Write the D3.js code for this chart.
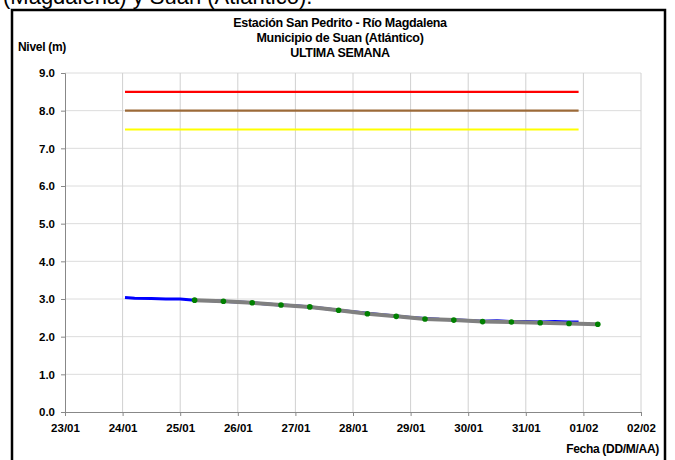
<!DOCTYPE html>
<html>
<head>
<meta charset="utf-8">
<script src="https://cdn.jsdelivr.net/npm/d3@7"></script>
<style>
  body { margin: 0; background: #fff; }
  svg { display: block; font-family: Arial, "Liberation Sans", sans-serif; }
</style>
</head>
<body>
<div id="chart"></div>
<script>
'use strict';

const width = 675;
const height = 460;

// serie horaria (azul)
const blueTimes = ['24/01 01:00', '24/01 05:00', '24/01 12:00', '24/01 18:00', '25/01 00:00', '25/01 06:00',
    '25/01 12:00', '25/01 18:00', '26/01 00:00', '26/01 06:00', '26/01 12:00', '26/01 18:00', '27/01 00:00',
    '27/01 06:00', '27/01 12:00', '27/01 18:00', '28/01 00:00', '28/01 06:00', '28/01 12:00', '28/01 18:00',
    '29/01 00:00', '29/01 06:00', '29/01 12:00', '29/01 18:00', '30/01 00:00', '30/01 06:00', '30/01 12:00',
    '30/01 18:00', '31/01 00:00', '31/01 06:00', '31/01 12:00', '31/01 18:00', '31/01 22:00'];
const blueValues = [3.04, 3.02, 3.01, 3.0, 3.0, 2.97, 2.96, 2.94, 2.92, 2.9, 2.87, 2.84, 2.82, 2.79, 2.75,
    2.7, 2.66, 2.62, 2.58, 2.55, 2.51, 2.48, 2.46, 2.45, 2.43, 2.41, 2.42, 2.4, 2.4, 2.39, 2.4, 2.39, 2.39];

// lecturas (gris con puntos verdes)
const readTimes = ['25/01 06:00', '25/01 18:00', '26/01 06:00', '26/01 18:00', '27/01 06:00', '27/01 18:00',
    '28/01 06:00', '28/01 18:00', '29/01 06:00', '29/01 18:00', '30/01 06:00', '30/01 18:00', '31/01 06:00',
    '31/01 18:00', '01/02 06:00'];
const readValues = [2.97, 2.94, 2.9, 2.84, 2.79, 2.7, 2.61, 2.54, 2.47, 2.44, 2.4, 2.39, 2.37, 2.35, 2.33];

// niveles de alerta
const alertLevels = [8.5, 8.0, 7.5];
const alertColors = ['#ff0000', '#9c6a38', '#ffff00'];

const yTicks = [0, 1, 2, 3, 4, 5, 6, 7, 8, 9];
const titleLines = ['Estación San Pedrito - Río Magdalena', 'Municipio de Suan (Atlántico)', 'ULTIMA SEMANA'];

const parseTime = d3.utcParse('%d/%m/%Y %H:%M');
const toDate = s => parseTime(s.replace(' ', '/2011 '));

const blue = blueTimes.map((t, i) => ({ date: toDate(t), value: blueValues[i] }));
const reads = readTimes.map((t, i) => ({ date: toDate(t), value: readValues[i] }));

const margin = { left: 65, right: 34, top: 73, bottom: 48 };

const x = d3.scaleUtc()
    .domain([toDate('23/01 00:00'), toDate('02/02 00:00')])
    .range([margin.left, width - margin.right]);

const y = d3.scaleLinear()
    .domain([0, 9])
    .range([height - margin.bottom, margin.top]);

const svg = d3.select('#chart').append('svg')
    .attr('width', width)
    .attr('height', height);

// texto del documento (cortado arriba, como en la captura)
svg.append('text')
    .attr('x', 3)
    .attr('y', 4)
    .attr('font-size', 22)
    .attr('fill', '#000')
    .text('(Magdalena) y Suan (Atlántico).');

// marco
svg.append('rect')
    .attr('x', 12)
    .attr('y', 10)
    .attr('width', 653)
    .attr('height', 470)
    .attr('fill', '#fff')
    .attr('stroke', '#000')
    .attr('stroke-width', 2.5);

const dayTicks = d3.utcDay.range(x.domain()[0], d3.utcDay.offset(x.domain()[1], 1));

// rejilla
svg.append('g').selectAll('line').data(yTicks.slice(1))
    .enter().append('line')
    .attr('x1', margin.left).attr('x2', width - margin.right)
    .attr('y1', d => y(d)).attr('y2', d => y(d))
    .attr('stroke', '#dcdcdc');

svg.append('g').selectAll('line').data(dayTicks.slice(1))
    .enter().append('line')
    .attr('x1', d => x(d)).attr('x2', d => x(d))
    .attr('y1', y(0)).attr('y2', y(9))
    .attr('stroke', '#d0d0d0');

// ejes
const yAxis = svg.append('g')
    .attr('transform', `translate(${margin.left},0)`)
    .call(d3.axisLeft(y).tickValues(yTicks).tickFormat(d3.format('.1f')).tickSize(4).tickPadding(6));

const xAxis = svg.append('g')
    .attr('transform', `translate(0,${y(0)})`)
    .call(d3.axisBottom(x).tickValues(dayTicks).tickFormat(d3.utcFormat('%d/%m')).tickSize(4).tickPadding(8));

[yAxis, xAxis].forEach(a => {
    a.select('.domain').attr('stroke', '#888');
    a.selectAll('.tick line').attr('stroke', '#888');
    a.selectAll('.tick text')
        .attr('font-size', 11.5)
        .attr('font-weight', 'bold')
        .attr('fill', '#000')
        .attr('font-family', 'Arial, "Liberation Sans", sans-serif');
});

// niveles de alerta
const first = blue[0].date;
const last = blue[blue.length - 1].date;
svg.append('g').selectAll('line').data(alertLevels)
    .enter().append('line')
    .attr('x1', x(first)).attr('x2', x(last))
    .attr('y1', d => y(d)).attr('y2', d => y(d))
    .attr('stroke', (d, i) => alertColors[i])
    .attr('stroke-width', 2.2);

// serie azul
const line = d3.line().x(d => x(d.date)).y(d => y(d.value));

svg.append('path')
    .datum(blue)
    .attr('fill', 'none')
    .attr('stroke', '#0000ff')
    .attr('stroke-width', 3)
    .attr('d', line);

// lecturas
svg.append('path')
    .datum(reads)
    .attr('fill', 'none')
    .attr('stroke', '#808080')
    .attr('stroke-width', 4)
    .attr('d', line);

svg.append('g').selectAll('circle').data(reads)
    .enter().append('circle')
    .attr('cx', d => x(d.date))
    .attr('cy', d => y(d.value))
    .attr('r', 2.8)
    .attr('fill', '#008000');

// titulos
svg.append('g').selectAll('text').data(titleLines)
    .enter().append('text')
    .attr('x', 340)
    .attr('y', (d, i) => 27 + i * 15)
    .attr('text-anchor', 'middle')
    .attr('font-size', 12.5)
    .attr('font-weight', 'bold')
    .attr('letter-spacing', -0.3)
    .text(d => d);

svg.append('text')
    .attr('x', 18)
    .attr('y', 51)
    .attr('font-size', 12)
    .attr('font-weight', 'bold')
    .attr('letter-spacing', -0.3)
    .text('Nivel (m)');

svg.append('text')
    .attr('x', 659)
    .attr('y', 453)
    .attr('text-anchor', 'end')
    .attr('font-size', 12)
    .attr('font-weight', 'bold')
    .attr('letter-spacing', -0.3)
    .text('Fecha (DD/M/AA)');
</script>
</body>
</html>
